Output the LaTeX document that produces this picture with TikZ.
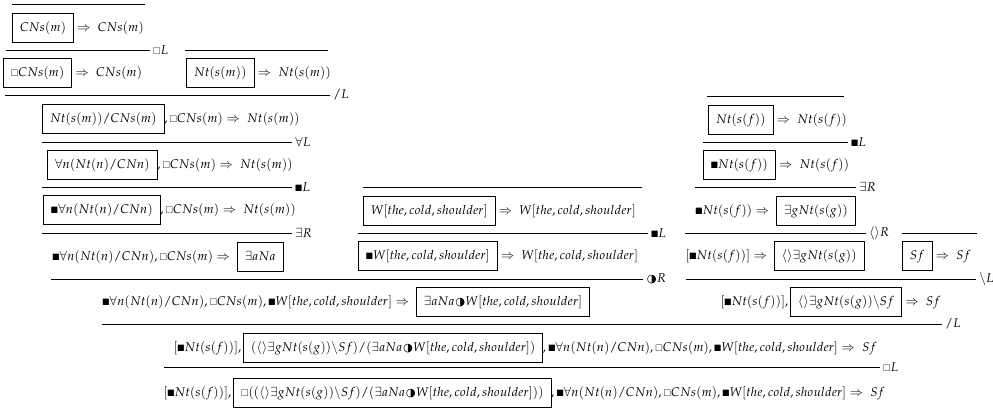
\documentclass[tikz,border=0pt]{standalone}
\usepackage{amssymb}
\usepackage{graphicx}
\usepackage{mathpazo}
\usepackage[no-math]{fontspec}
\newfontfamily\symfont{DejaVu Sans}
\usepackage{tikz}
\usetikzlibrary{positioning}

\setlength{\fboxsep}{5pt}
\newcommand{\bx}[1]{\fbox{\rule[-2.8pt]{0pt}{10.5pt}$#1$}}
\newcommand{\bsq}{\mathord{\scalebox{0.7}{$\blacksquare$}}}
\newcommand{\wsq}{\mathord{\scalebox{0.72}{$\square$}}}
\newcommand{\hc}{\mathord{\mkern1mu\mbox{\symfont\fontsize{8}{9}\selectfont ◑}\mkern0.5mu}}
\newcommand{\tcs}{W[the, cold, shoulder]}
\newcommand{\seqto}{\Rightarrow\mkern5mu}

\begin{document}
\begin{tikzpicture}[x=0.025cm, y=-0.025cm, line width=0.5pt, every node/.style={font=\fontsize{9}{11}\selectfont}, seq/.style={anchor=west, inner sep=0pt}, rl/.style={anchor=west, inner sep=2pt}]
      \useasboundingbox (0,0) rectangle (993,408);
      % left branch
      \draw (12,4) -- (145,4);
      \node[seq] (s1) at (12,28) {$\bx{CNs(m)} \seqto CNs(m)$};
      \draw (6,50) -- (150,50) node[rl] (r1) {$\wsq L$};
      \node[seq] (s2) at (3,73) {$\bx{\wsq CNs(m)} \seqto CNs(m)$};
      \draw (185,50) -- (328,50);
      \node[seq] (s3) at (186,73) {$\bx{Nt(s(m))} \seqto Nt(s(m))$};
      \draw (5,95) -- (330,95) node[rl] (r2) {$/L$};
      \node[seq] (s4) at (42,119) {$\bx{Nt(s(m))/CNs(m)}, \wsq CNs(m) \seqto Nt(s(m))$};
      \draw (42,142) -- (292,142) node[rl] (r3) {$\forall L$};
      \node[seq] (s5) at (47,165) {$\bx{\forall n(Nt(n)/CNn)}, \wsq CNs(m) \seqto Nt(s(m))$};
      \draw (42,187) -- (292,187) node[rl] (r4) {$\bsq L$};
      \node[seq] (s6) at (43,210) {$\bx{\bsq\forall n(Nt(n)/CNn)}, \wsq CNs(m) \seqto Nt(s(m))$};
      \draw (42,233) -- (292,233) node[rl] (r5) {$\exists R$};
      \node[seq] (s7) at (52,257) {$\bsq\forall n(Nt(n)/CNn), \wsq CNs(m) \seqto \bx{\exists aNa}$};
      % middle branch
      \draw (363,187) -- (642,187);
      \node[seq] (s8) at (363,211) {$\bx{\tcs} \seqto \tcs$};
      \draw (358,233) -- (648,233) node[rl] (r6) {$\bsq L$};
      \node[seq] (s9) at (358,256) {$\bx{\bsq\tcs} \seqto \tcs$};
      \draw (51,279) -- (643,279) node[rl] (r7) {$\hc R$};
      \node[seq] (s10) at (102,302) {$\bsq\forall n(Nt(n)/CNn), \wsq CNs(m), \bsq\tcs \seqto \bx{\exists aNa\hc\tcs}$};
      % right branch
      \draw (707,96) -- (844,96);
      \node[seq] (s11) at (708,120) {$\bx{Nt(s(f))} \seqto Nt(s(f))$};
      \draw (703,142) -- (848,142) node[rl] (r8) {$\bsq L$};
      \node[seq] (s12) at (703,165) {$\bx{\bsq Nt(s(f))} \seqto Nt(s(f))$};
      \draw (695,187) -- (856,187) node[rl] (r9) {$\exists R$};
      \node[seq] (s13) at (695,211) {$\bsq Nt(s(f)) \seqto \bx{\exists gNt(s(g))}$};
      \draw (685,233) -- (866,233) node[rl] (r10) {$\langle\rangle R$};
      \node[seq] (s14) at (685,256) {$[\bsq Nt(s(f))] \seqto \bx{\langle\rangle\exists gNt(s(g))}$};
      \draw (902,233) -- (977,233);
      \node[seq] (s15) at (902,256) {$\bx{Sf} \seqto Sf$};
      \draw (686,279) -- (976,279) node[rl] (r11) {$\backslash L$};
      \node[seq] (s16) at (720,302) {$[\bsq Nt(s(f))], \bx{\langle\rangle\exists gNt(s(g))\backslash Sf} \seqto Sf$};
      % root
      \draw (102,324) -- (942,324) node[rl] (r12) {$/L$};
      \node[seq] (s17) at (173,348) {$[\bsq Nt(s(f))], \bx{(\langle\rangle\exists gNt(s(g))\backslash Sf)/(\exists aNa\hc\tcs)}, \bsq\forall n(Nt(n)/CNn), \wsq CNs(m), \bsq\tcs \seqto Sf$};
      \draw (164,367) -- (880,367) node[rl] (r13) {$\wsq L$};
      \node[seq] (s18) at (163,393) {$[\bsq Nt(s(f))], \bx{\wsq((\langle\rangle\exists gNt(s(g))\backslash Sf)/(\exists aNa\hc\tcs))}, \bsq\forall n(Nt(n)/CNn), \wsq CNs(m), \bsq\tcs \seqto Sf$};
    \end{tikzpicture}
\end{document}
